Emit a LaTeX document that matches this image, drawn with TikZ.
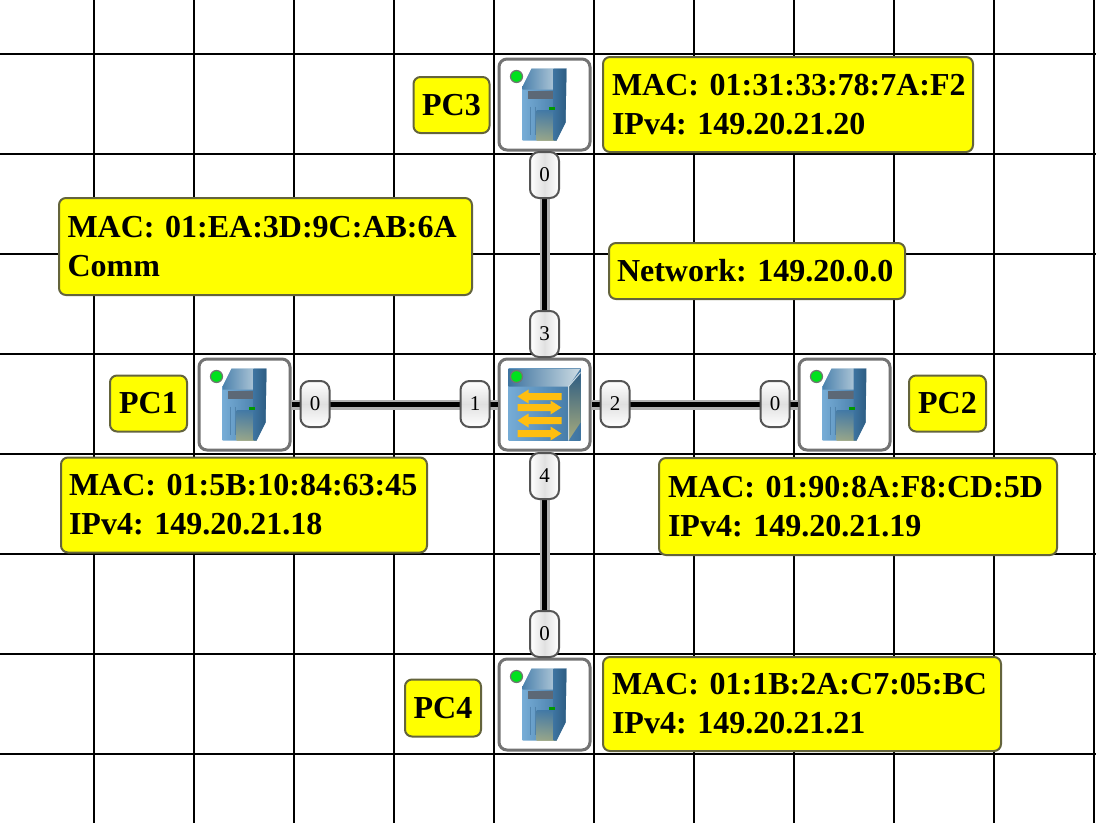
\documentclass[tikz,border=0pt]{standalone}
\usepackage{fontspec}
\setmainfont{Liberation Serif}
\usetikzlibrary{calc}
\definecolor{lblyellow}{RGB}{255,255,0}
\definecolor{lbledge}{RGB}{100,100,60}
\definecolor{boxedge}{RGB}{115,115,115}
\definecolor{portedge}{RGB}{85,85,85}
\definecolor{led}{RGB}{0,225,30}
\definecolor{arrowy}{RGB}{255,190,15}
\definecolor{steelA}{RGB}{118,172,214}
\definecolor{steelB}{RGB}{62,116,160}
\definecolor{steelC}{RGB}{45,92,130}
\definecolor{paleA}{RGB}{205,220,228}
\definecolor{oliveA}{RGB}{168,172,125}
\definecolor{bandA}{RGB}{92,104,118}
\tikzset{
  x=1pt,y=-1pt,
  gridline/.style={black,line width=2pt},
  devbox/.style={draw=boxedge,line width=3pt,rounded corners=8pt,fill=white,minimum width=91pt,minimum height=91pt,inner sep=0pt},
  tag/.style={draw=lbledge,line width=2pt,rounded corners=7pt,fill=lblyellow,inner sep=0pt,font=\fontsize{32}{39}\selectfont\bfseries\frenchspacing,text=black},
  porttag/.style={draw=portedge,line width=2pt,rounded corners=9pt,minimum width=29pt,minimum height=46pt,inner sep=0pt,font=\fontsize{21}{24}\selectfont,text=black},
  porth/.style={porttag,top color=white,bottom color=white,middle color=black!12},
  portv/.style={porttag,left color=white,right color=white,middle color=black!12},
  linkback/.style={draw=black!30,line width=10pt},
  linkfront/.style={draw=black,line width=4.5pt},
}
\newcommand{\serverpic}[1]{%
  \begin{scope}[shift={(#1)}]
    \shade[left color=steelA,right color=steelB]
      (-22,-18) -- (-13,-36) -- (22,-36) -- (21,18) -- (12,36) -- (-22,36) -- cycle;
    \shade[left color=steelB,right color=paleA,opacity=.75] (-22,-18) -- (-13,-36) -- (10,-36) -- (10,-15) -- (-22,-15) -- cycle;
    \fill[bandA] (-17,-14) -- (9,-14) -- (9,-6) -- (-17,-6) -- cycle;
    \shade[top color=steelB,bottom color=oliveA,opacity=.8] (-8,6) -- (12,6) -- (12,36) -- (-8,36) -- cycle;
    \shade[left color=steelB,right color=steelC] (9,-36) -- (22,-36) -- (21,18) -- (12,36) -- (9,36) -- cycle;
    \fill[black!40!green] (4,2) rectangle (10,5);
    \draw[steelC,opacity=.4,line width=1pt] (-14,2) -- (-14,30) (-9,2) -- (-9,30);
    \fill[led,draw=black!55,line width=1.2pt] (-28,-28) circle (6);
  \end{scope}}
\newcommand{\switchpic}[1]{%
  \begin{scope}[shift={(#1)}]
    \shade[left color=steelA,right color=steelB] (-36,-36) rectangle (36,36);
    \shade[left color=steelB,right color=paleA] (-36,-36) -- (36,-36) -- (24,-18) -- (-36,-18) -- cycle;
    \shade[top color=steelC,bottom color=oliveA] (24,-18) -- (36,-32) -- (36,18) -- (24,36) -- cycle;
    \draw[paleA,line width=1pt] (24,-18) -- (24,36) (24,-18) -- (36,-32);
    \foreach \yy/\dir in {-8/-1,3/1,16/-1,29/1}{
      \ifnum\dir=1
        \fill[arrowy] (-27,\yy-3.5) -- (6,\yy-3.5) -- (6,\yy-7) -- (17,\yy) -- (6,\yy+7) -- (6,\yy+3.5) -- (-27,\yy+3.5) -- cycle;
      \else
        \fill[arrowy] (17,\yy-3.5) -- (-16,\yy-3.5) -- (-16,\yy-7) -- (-27,\yy) -- (-16,\yy+7) -- (-16,\yy+3.5) -- (17,\yy+3.5) -- cycle;
      \fi}
    \fill[led,draw=black!55,line width=1.2pt] (-28,-28) circle (6);
  \end{scope}}
\begin{document}
\begin{tikzpicture}
\useasboundingbox (0,0) rectangle (1096,823);
\fill[white] (0,0) rectangle (1096,823);
\foreach \gx in {94,194,294,394,494,594,694,794,894,994,1094}
  \draw[gridline] (\gx,0) -- (\gx,823);
\foreach \gy in {54,154,254,354,454,554,654,754}
  \draw[gridline] (0,\gy) -- (1096,\gy);

% devices
\node[devbox] (sw) at (544.5,404.5) {};
\node[devbox] (pc1) at (244.5,404.5) {};
\node[devbox] (pc2) at (844.5,404.5) {};
\node[devbox] (pc3) at (544.5,104.5) {};
\node[devbox] (pc4) at (544.5,704.5) {};
\serverpic{pc1}\serverpic{pc2}\serverpic{pc3}\serverpic{pc4}\switchpic{sw}

% links
\foreach \a in {pc1,pc2,pc3,pc4}{
  \draw[linkback] (\a) -- (sw);
  \draw[linkfront] (\a) -- (sw);}

% port tags
\node[porth] (p1a) at (315,404) {0};
\node[porth] (p1b) at (475,404) {1};
\node[porth] (p2b) at (615,404) {2};
\node[porth] (p2a) at (775,404) {0};
\node[portv] (p3a) at (544.5,175) {0};
\node[portv] (p3b) at (544.5,334) {3};
\node[portv] (p4b) at (544.5,476) {4};
\node[portv] (p4a) at (544.5,634) {0};

% name tags
\node[tag,minimum width=76pt,minimum height=56pt] (n3) at (451.5,105) {PC3};
\node[tag,minimum width=77pt,minimum height=56pt] (n1) at (148.5,403.5) {PC1};
\node[tag,minimum width=77pt,minimum height=56pt] (n2) at (947.5,403.5) {PC2};
\node[tag,minimum width=76pt,minimum height=57pt] (n4) at (443,708) {PC4};

% info tags
\node[tag,minimum width=370pt,minimum height=95pt,text width=352pt,align=left] (i3) at (788,104.5) {\mbox{MAC: 01:31:33:78:7A:F2}\\\mbox{IPv4: 149.20.21.20}};
\node[tag,minimum width=413pt,minimum height=97pt,text width=396pt,align=left] (i0) at (265.5,246.5) {\mbox{MAC: 01:EA:3D:9C:AB:6A}\\Comm};
\node[tag,minimum width=296pt,minimum height=56pt,text width=280pt,align=left] (i5) at (757,271) {Network: 149.20.0.0};
\node[tag,minimum width=366pt,minimum height=95pt,text width=350pt,align=left] (i1) at (244,505) {\mbox{MAC: 01:5B:10:84:63:45}\\\mbox{IPv4: 149.20.21.18}};
\node[tag,minimum width=398pt,minimum height=97pt,text width=380pt,align=left] (i2) at (858,506.5) {\mbox{MAC: 01:90:8A:F8:CD:5D}\\\mbox{IPv4: 149.20.21.19}};
\node[tag,minimum width=398pt,minimum height=94pt,text width=380pt,align=left] (i4) at (802,704) {\mbox{MAC: 01:1B:2A:C7:05:BC}\\\mbox{IPv4: 149.20.21.21}};
\end{tikzpicture}
\end{document}
